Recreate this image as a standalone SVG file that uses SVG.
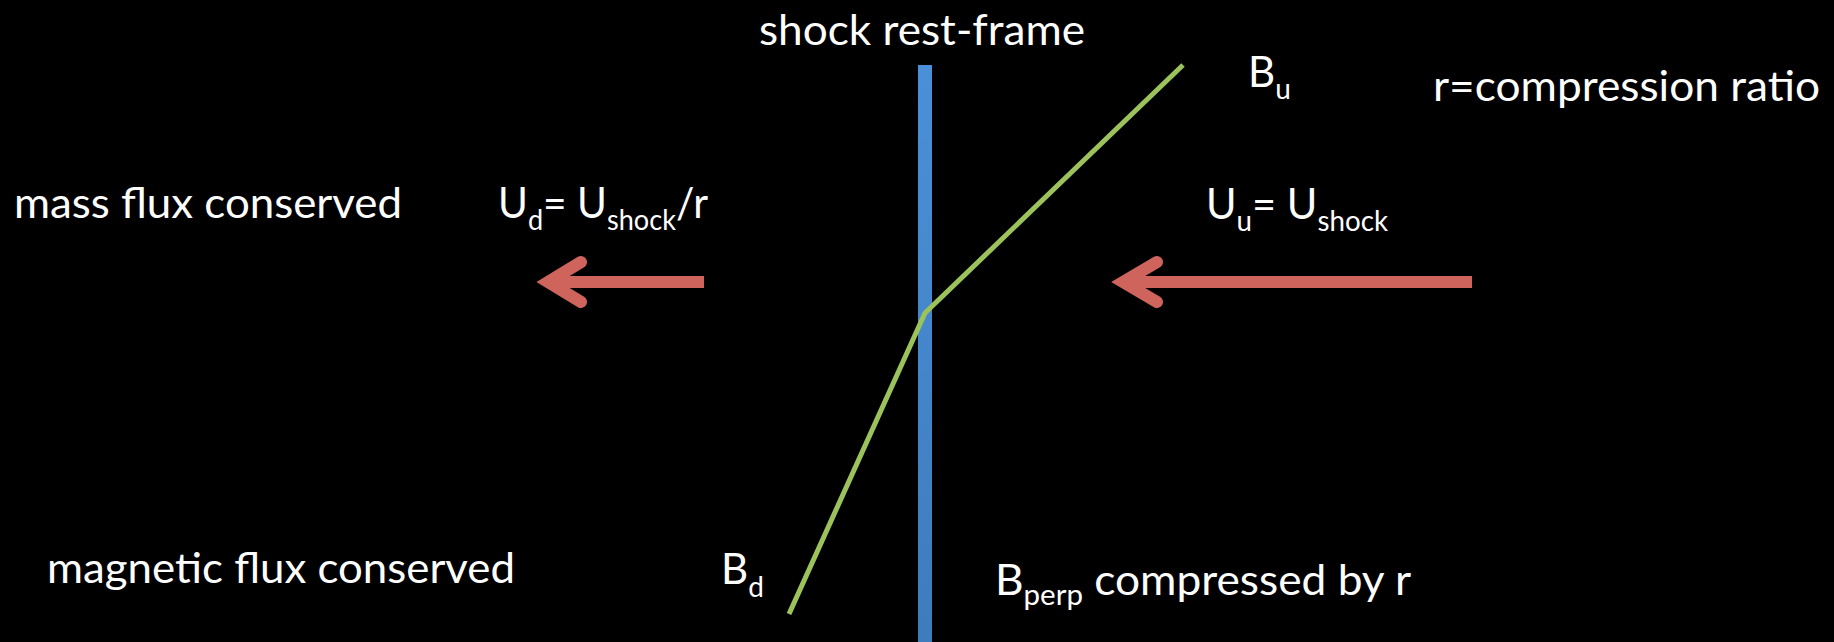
<svg xmlns="http://www.w3.org/2000/svg" width="1834" height="642" viewBox="0 0 1834 642">
  <defs>
    <linearGradient id="barGrad" x1="0" y1="0" x2="0" y2="1">
      <stop offset="0" stop-color="#4a90d8"/>
      <stop offset="1" stop-color="#3d7cbd"/>
    </linearGradient>
    <style>
      text { font-family: Lato, "Liberation Sans", sans-serif; fill: #ffffff; font-size: 42px; }
      .sub { font-size: 28px; }
      .shaft { stroke: #cf645d; stroke-width: 12; fill: none; stroke-linecap: butt; }
      .head { stroke: #cf645d; stroke-width: 12; fill: none; stroke-linecap: round; stroke-linejoin: miter; stroke-miterlimit: 10; }
      .field { stroke: #9cc35b; stroke-width: 5; fill: none; stroke-linejoin: round; }
    </style>
  </defs>
  <rect x="0" y="0" width="1834" height="642" fill="#000000"/>

  <g id="shock-front">
    <rect x="918" y="65" width="14" height="577" fill="url(#barGrad)"/>
  </g>

  <g id="connectors">
    <g id="arrow-downstream">
      <line class="shaft" x1="704" y1="282" x2="552" y2="282"/>
      <polyline class="head" points="581,262 548,282 581,302"/>
    </g>
    <g id="arrow-upstream">
      <line class="shaft" x1="1472" y1="282" x2="1127" y2="282"/>
      <polyline class="head" points="1157,262 1123,282 1157,302"/>
    </g>
    <polyline id="field-line" class="field" points="1183,65 925,313 789,614"/>
  </g>

  <g id="title">
    <text x="759" y="45" textLength="326" lengthAdjust="spacingAndGlyphs">shock rest-frame</text>
  </g>
  <g id="ratio-label">
    <text x="1433" y="101" textLength="387" lengthAdjust="spacingAndGlyphs">r=compression ratio</text>
  </g>
  <g id="mass-flux">
    <text x="14" y="218" textLength="388" lengthAdjust="spacingAndGlyphs">mass flux conserved</text>
  </g>
  <g id="magnetic-flux">
    <text x="47" y="583" textLength="468" lengthAdjust="spacingAndGlyphs">magnetic flux conserved</text>
  </g>
  <g id="ud-label">
    <text x="498" y="218" textLength="210" lengthAdjust="spacingAndGlyphs">U<tspan class="sub" dy="12">d</tspan><tspan dy="-12">= U</tspan><tspan class="sub" dy="12">shock</tspan><tspan dy="-12">/r</tspan></text>
  </g>
  <g id="uu-label">
    <text x="1206" y="219" textLength="182" lengthAdjust="spacingAndGlyphs">U<tspan class="sub" dy="12">u</tspan><tspan dy="-12">= U</tspan><tspan class="sub" dy="12">shock</tspan></text>
  </g>
  <g id="bu-label">
    <text x="1248" y="87">B<tspan class="sub" dy="12">u</tspan></text>
  </g>
  <g id="bd-label">
    <text x="721" y="584">B<tspan class="sub" dy="13">d</tspan></text>
  </g>
  <g id="bperp-label">
    <text x="995" y="595" textLength="416" lengthAdjust="spacingAndGlyphs">B<tspan class="sub" dy="10">perp</tspan><tspan dy="-10"> compressed by r</tspan></text>
  </g>
</svg>
